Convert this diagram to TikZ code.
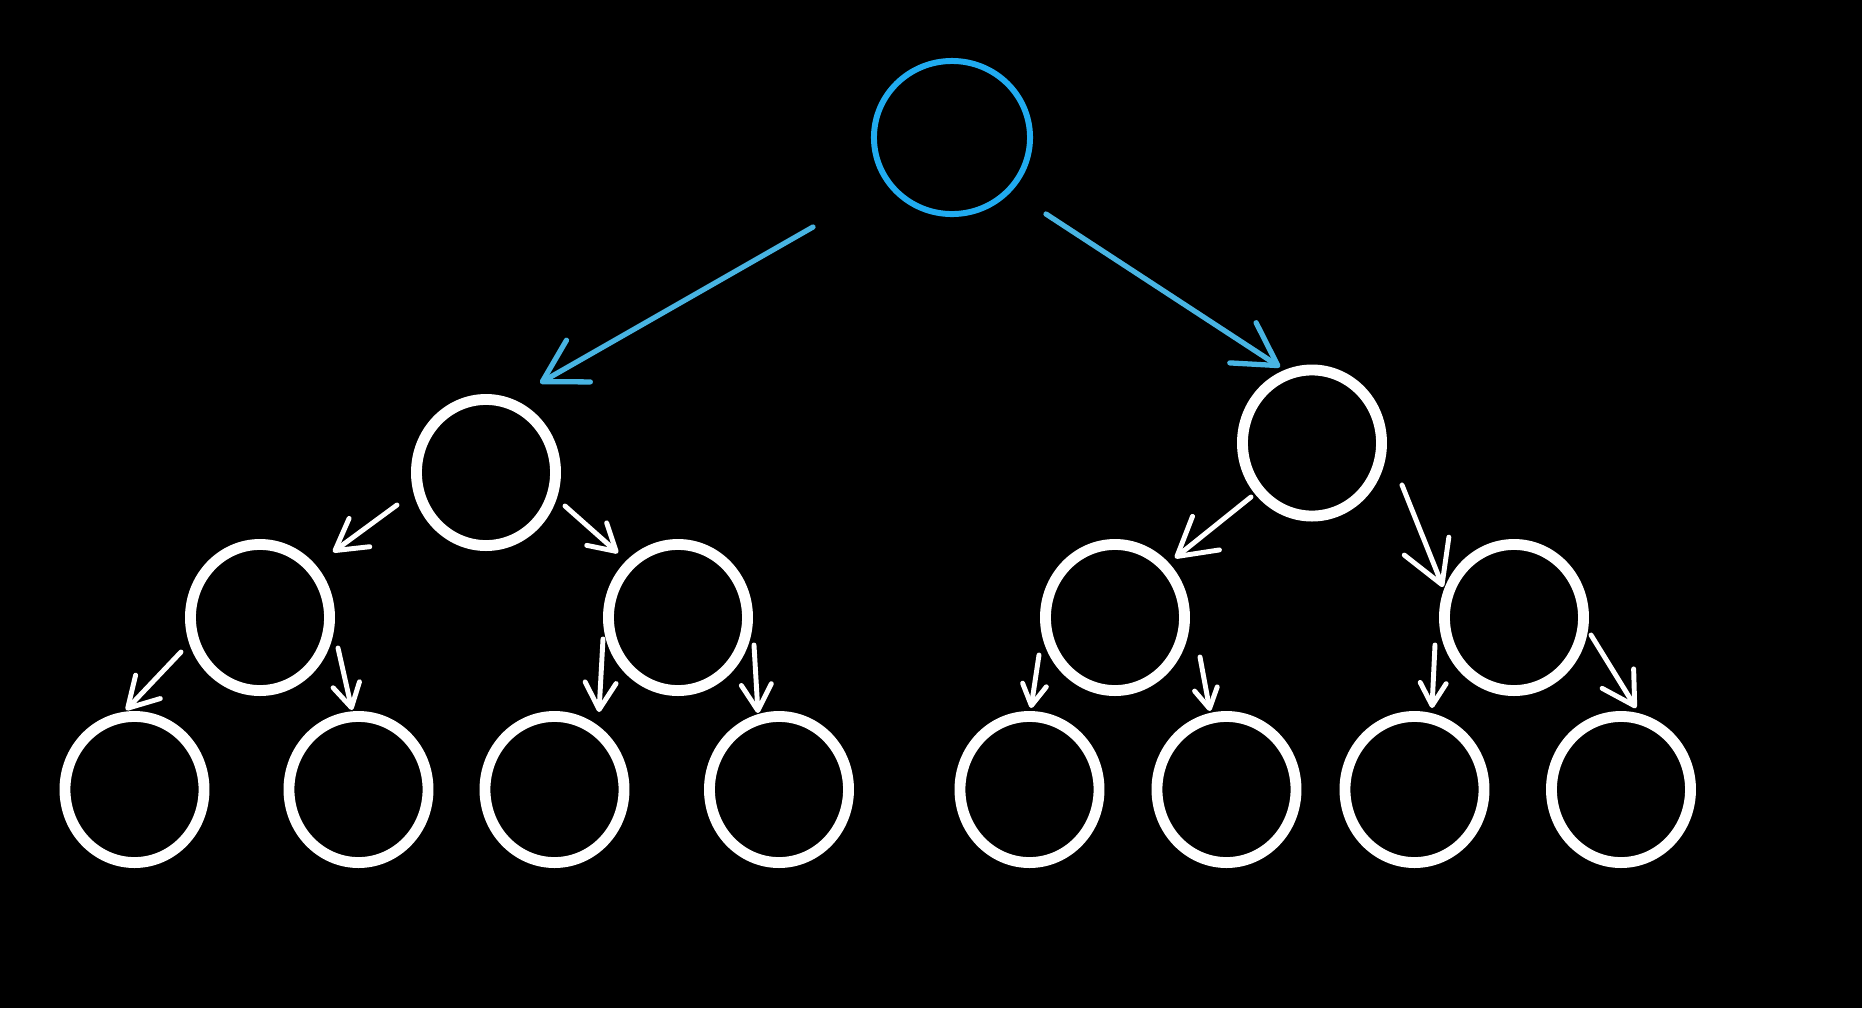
\documentclass[tikz,border=0pt]{standalone}
\usetikzlibrary{arrows.meta,shapes.geometric}
\definecolor{rootblue}{RGB}{32,171,240}
\definecolor{linkblue}{RGB}{72,180,226}
\tikzset{
  vertex/.style={
    shape = ellipse,
    draw = white,
    line width = 3.1pt,
    inner sep = 0,
    minimum width = 1.39cm,
    minimum height = 1.46cm
  },
  rootvertex/.style={
    shape = ellipse,
    draw = rootblue,
    line width = 1.7pt,
    inner sep = 0,
    minimum width = 1.56cm,
    minimum height = 1.53cm
  },
  link/.style={
    draw = white,
    line width = 1.4pt,
    line cap = round,
    -{Straight Barb[angle=60:#1cm, round]}
  },
  bluelink/.style={
    link = #1,
    draw = linkblue,
    line width = 1.5pt
  }
}

\begin{document}
\begin{tikzpicture}[x=0.01cm, y=-0.01cm]
            \fill[black] (0,0) rectangle (1862,1008);
            \useasboundingbox (0,0) rectangle (1862,1008);
            % nodes
            \node[rootvertex] (r) at (952,137.5) {};
            \node[vertex] (a) at (486,472.5) {};
            \node[vertex] (b) at (1312,443) {};
            \node[vertex] (aa) at (260,617.5) {};
            \node[vertex] (ab) at (678,617.5) {};
            \node[vertex] (ba) at (1115,617.5) {};
            \node[vertex] (bb) at (1514,617.5) {};
            \node[vertex] (aaa) at (134.5,789.5) {};
            \node[vertex] (aab) at (358.5,789.5) {};
            \node[vertex] (aba) at (554.5,789.5) {};
            \node[vertex] (abb) at (779,789.5) {};
            \node[vertex] (baa) at (1029.5,789.5) {};
            \node[vertex] (bab) at (1226.5,789.5) {};
            \node[vertex] (bba) at (1414.5,789.5) {};
            \node[vertex] (bbb) at (1621,789.5) {};
            % arrow ends
            \coordinate (r-a1) at (813,227);   \coordinate (r-a2) at (540,383);
            \coordinate (r-b1) at (1046,214);  \coordinate (r-b2) at (1280,367);
            \coordinate (a-aa1) at (397,505);  \coordinate (a-aa2) at (333,552);
            \coordinate (a-ab1) at (565,506);  \coordinate (a-ab2) at (618,553);
            \coordinate (b-ba1) at (1251,497); \coordinate (b-ba2) at (1175,558);
            \coordinate (b-bb1) at (1402,485); \coordinate (b-bb2) at (1443,587);
            \coordinate (aa-aaa1) at (181,652); \coordinate (aa-aaa2) at (126,710);
            \coordinate (aa-aab1) at (338,648); \coordinate (aa-aab2) at (352,710);
            \coordinate (ab-aba1) at (603,639); \coordinate (ab-aba2) at (599,712);
            \coordinate (ab-abb1) at (754,645); \coordinate (ab-abb2) at (758,713);
            \coordinate (ba-baa1) at (1039,655); \coordinate (ba-baa2) at (1031,708);
            \coordinate (ba-bab1) at (1200,657); \coordinate (ba-bab2) at (1210,711);
            \coordinate (bb-bba1) at (1435,645); \coordinate (bb-bba2) at (1432,708);
            \coordinate (bb-bbb1) at (1591,635); \coordinate (bb-bbb2) at (1636,708);
            % arrows
            \draw[bluelink=.48] (r-a1) -- (r-a2);
            \draw[bluelink=.48] (r-b1) -- (r-b2);
            \draw[link=.35] (a-aa1) -- (a-aa2);
            \draw[link=.30] (a-ab1) -- (a-ab2);
            \draw[link=.43] (b-ba1) -- (b-ba2);
            \draw[link=.48] (b-bb1) -- (b-bb2);
            \draw[link=.34] (aa-aaa1) -- (aa-aaa2);
            \draw[link=.27] (aa-aab1) -- (aa-aab2);
            \draw[link=.31] (ab-aba1) -- (ab-aba2);
            \draw[link=.30] (ab-abb1) -- (ab-abb2);
            \draw[link=.24] (ba-baa1) -- (ba-baa2);
            \draw[link=.23] (ba-bab1) -- (ba-bab2);
            \draw[link=.26] (bb-bba1) -- (bb-bba2);
            \draw[link=.37] (bb-bbb1) -- (bb-bbb2);
\end{tikzpicture}
\end{document}
